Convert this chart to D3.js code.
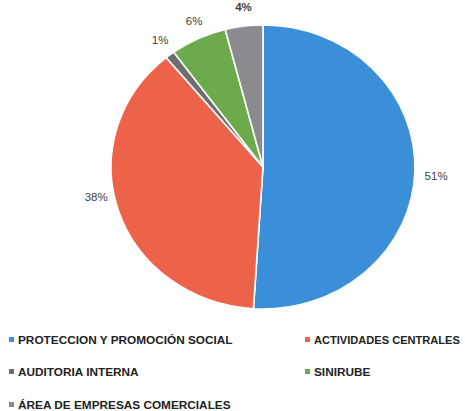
<!DOCTYPE html>
<html lang="es">
<head>
<meta charset="UTF-8">
<title>Distribución por programa</title>
<script src="https://d3js.org/d3.v7.min.js"></script>
<style>
  body { margin: 0; background: #fff; font-family: "Liberation Sans", Arial, sans-serif; }
  .pct { font-size: 11.5px; fill: #404040; }
  .legend text { font-size: 11.8px; font-weight: bold; fill: #222; }
</style>
</head>
<body>
<svg width="465" height="411"></svg>
<script>
// datos
const categories = ["PROTECCION Y PROMOCIÓN SOCIAL", "ACTIVIDADES CENTRALES", "AUDITORIA INTERNA", "SINIRUBE", "ÁREA DE EMPRESAS COMERCIALES"];
const values = [51, 38, 1, 6, 4];
const colors = ["#3b8ed8", "#ec6349", "#6e6e6e", "#6caa4c", "#8b8b8f"];
// small nudges for label placement (Excel best fit)
const labelNudge = [[2, 5], [-4, -18], [2, 0], [4, 0], [2, 0]];

const svg = d3.select("svg");
const width = +svg.attr("width");
const cx = 263, cy = 167, r = 142, sx = 1.07;

const pie = d3.pie().sort(null).value(d => d)(values);
const arc = d3.arc().innerRadius(0).outerRadius(r);

const g = svg.append("g").attr("transform", `translate(${cx},${cy}) scale(${sx},1)`);
g.selectAll("path")
  .data(pie)
  .enter().append("path")
  .attr("d", arc)
  .attr("fill", (d, i) => colors[i])
  .attr("stroke", "#fff")
  .attr("stroke-width", 1.5);

// percent labels
const lr = r + 18;
svg.append("g").selectAll("text")
  .data(pie)
  .enter().append("text")
  .attr("class", "pct")
  .attr("text-anchor", "middle")
  .attr("dominant-baseline", "middle")
  .attr("x", (d, i) => {
    const a = (d.startAngle + d.endAngle) / 2;
    return cx + Math.sin(a) * lr * sx + labelNudge[i][0];
  })
  .attr("y", (d, i) => {
    const a = (d.startAngle + d.endAngle) / 2;
    return cy - Math.cos(a) * lr + labelNudge[i][1];
  })
  .style("font-weight", (d, i) => i === 4 ? "bold" : null)
  .text(d => d.data + "%");

// legend
const legendPos = [[9, 340], [305, 340], [9, 372], [305, 372], [9, 405]];
const lg = svg.append("g").attr("class", "legend")
  .selectAll("g")
  .data(categories)
  .enter().append("g")
  .attr("transform", (d, i) => `translate(${legendPos[i][0]},${legendPos[i][1]})`);
lg.append("rect")
  .attr("x", 0).attr("y", -3)
  .attr("width", 5).attr("height", 5)
  .attr("fill", (d, i) => colors[i]);
lg.append("text")
  .attr("x", 9)
  .attr("dy", "0.35em")
  .text(d => d)
  .each(function(d, i) {
    // shrink long labels so they stay inside the page
    const room = width - 5 - legendPos[i][0] - 9;
    const len = this.getComputedTextLength();
    if (len > room) {
      d3.select(this).style("font-size", (11.8 * room / len).toFixed(2) + "px");
    }
  });
</script>
</body>
</html>
